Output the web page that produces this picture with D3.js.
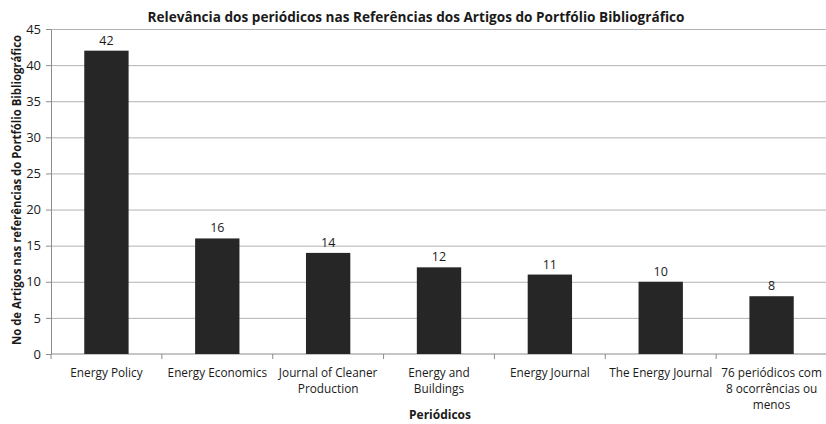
<!DOCTYPE html>
<html>
<head>
<meta charset="utf-8">
<script src="https://cdn.jsdelivr.net/npm/d3@7"></script>
<style>
  body { margin: 0; background: #fff; }
  text { font-family: "Open Sans", "Noto Sans", sans-serif; fill: #1a1a1a; }
  .grid line { stroke: #b3b3b3; }
  .grid path { display: none; }
  .axis path, .axis line { stroke: #8c8c8c; }
</style>
</head>
<body>
<div id="viz"></div>
<script>
// periodicos e numero de artigos
var categories = [
  "Energy Policy",
  "Energy Economics",
  "Journal of Cleaner Production",
  "Energy and Buildings",
  "Energy Journal",
  "The Energy Journal",
  "76 periódicos com 8 ocorrências ou menos"
]
var labelLines = [
  ["Energy Policy"],
  ["Energy Economics"],
  ["Journal of Cleaner", "Production"],
  ["Energy and", "Buildings"],
  ["Energy Journal"],
  ["The Energy Journal"],
  ["76 periódicos com", "8 ocorrências ou", "menos"]
]
var counts = [42, 16, 14, 12, 11, 10, 8]
var yTicks = [0, 5, 10, 15, 20, 25, 30, 35, 40, 45]

function drawChart() {
  let W = 826, H = 424
  let mLeft = 51, mRight = 827, mTop = 29, mBottom = 354

  let svg = d3.select('#viz').append('svg')
    .attr('width', W)
    .attr('height', H)

  let xScale = d3.scaleBand()
    .domain(categories)
    .range([mLeft, mRight])
    .paddingInner(0.6)
    .paddingOuter(0.3)

  let xTicks = d3.scaleBand()
    .domain(categories)
    .range([mLeft, mRight])

  let yScale = d3.scaleLinear()
    .domain([0, 45])
    .range([mBottom, mTop])

  // horizontal grid lines
  svg.append('g')
    .attr('class', 'grid')
    .attr('transform', `translate(${mLeft}, 0)`)
    .call(d3.axisLeft(yScale)
      .tickValues(yTicks.slice(1))
      .tickSize(-(mRight - mLeft))
      .tickFormat('')
    )

  // y axis
  svg.append('g')
    .attr('class', 'axis')
    .attr('transform', `translate(${mLeft}, 0)`)
    .call(d3.axisLeft(yScale)
      .tickValues(yTicks)
      .tickSize(5)
      .tickSizeOuter(0)
      .tickPadding(5)
    )
    .selectAll('text')
    .style('font-size', '13px')
    .style('font-family', '"Open Sans", sans-serif')
    .attr('fill', '#1a1a1a')

  // x axis line + tick marks at band edges
  let xAxis = svg.append('g')
    .attr('class', 'axis')
  xAxis.append('line')
    .attr('x1', mLeft).attr('x2', mRight)
    .attr('y1', mBottom).attr('y2', mBottom)
  xAxis.selectAll('.tk')
    .data(categories)
    .enter()
    .append('line')
    .attr('x1', (c) => xTicks(c)).attr('x2', (c) => xTicks(c))
    .attr('y1', mBottom).attr('y2', mBottom + 5)

  // bars
  svg.selectAll('.bar')
    .data(counts)
    .enter()
    .append('rect')
    .attr('class', 'bar')
    .attr('x', (d, i) => xScale(categories[i]))
    .attr('y', (d) => yScale(d))
    .attr('width', xScale.bandwidth())
    .attr('height', (d) => mBottom - yScale(d))
    .attr('fill', '#262626')

  // value labels
  svg.selectAll('.value')
    .data(counts)
    .enter()
    .append('text')
    .attr('class', 'value')
    .attr('x', (d, i) => xScale(categories[i]) + xScale.bandwidth() / 2)
    .attr('y', (d) => yScale(d) - 6)
    .attr('text-anchor', 'middle')
    .style('font-size', '12.5px')
    .text((d) => d)

  // category labels
  let catText = svg.selectAll('.cat')
    .data(labelLines)
    .enter()
    .append('text')
    .attr('class', 'cat')
    .attr('text-anchor', 'middle')
    .style('font-size', '11.8px')
    .attr('transform', (d, i) => `translate(${xTicks(categories[i]) + xTicks.bandwidth() / 2}, 377)`)
  catText.selectAll('tspan')
    .data((d) => d)
    .enter()
    .append('tspan')
    .attr('x', 0)
    .attr('y', (d, j) => j * 16)
    .text((d) => d)

  // title
  svg.append('text')
    .attr('x', 416)
    .attr('y', 22)
    .attr('text-anchor', 'middle')
    .style('font-size', '13.5px')
    .style('font-weight', 'bold')
    .attr('textLength', 537)
    .attr('lengthAdjust', 'spacingAndGlyphs')
    .text('Relevância dos periódicos nas Referências dos Artigos do Portfólio Bibliográfico')

  // axis titles
  svg.append('text')
    .attr('transform', 'translate(21, 190) rotate(-90)')
    .attr('text-anchor', 'middle')
    .style('font-size', '12.5px')
    .style('font-weight', 'bold')
    .attr('textLength', 310)
    .attr('lengthAdjust', 'spacingAndGlyphs')
    .text('No de Artigos nas referências do Portfólio Bibliográfico')

  svg.append('text')
    .attr('x', 440)
    .attr('y', 419)
    .attr('text-anchor', 'middle')
    .style('font-size', '12px')
    .style('font-weight', 'bold')
    .text('Periódicos')
}

drawChart()
</script>
</body>
</html>
